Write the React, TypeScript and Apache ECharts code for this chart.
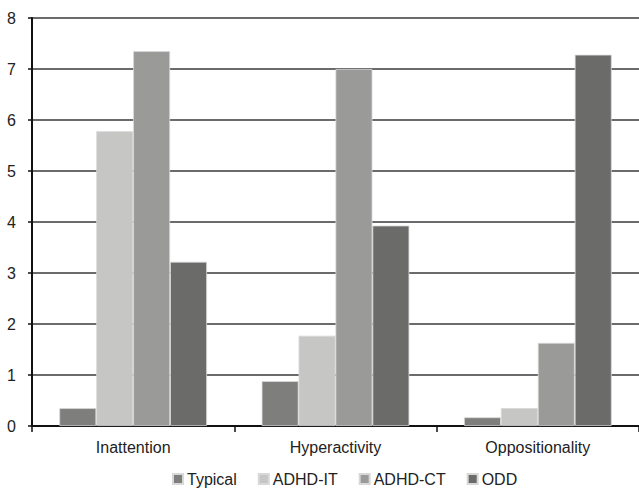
import React, { useEffect, useRef } from "react";
import * as echarts from "echarts";

const categories = ["Inattention", "Hyperactivity", "Oppositionality"];
const seriesNames = ["Typical", "ADHD-IT", "ADHD-CT", "ODD"];
const typical = [0.35, 0.88, 0.17];
const adhdIT = [5.78, 1.77, 0.35];
const adhdCT = [7.35, 7.0, 1.63];
const odd = [3.22, 3.93, 7.28];
const colors = ["#7e7e7c", "#c6c7c5", "#9a9b99", "#6b6b69"];

export default function App() {
  const ref = useRef<HTMLDivElement>(null);
  useEffect(() => {
    if (!ref.current) return;
    const chart = echarts.init(ref.current, undefined, { renderer: "svg" });
    const values = [typical, adhdIT, adhdCT, odd];
    chart.setOption({
      animation: false,
      textStyle: { fontFamily: "Liberation Sans, Arial, sans-serif" },
      grid: { left: 32, right: 0, top: 18, bottom: 62, containLabel: false },
      legend: {
        top: 471,
        left: 172,
        padding: 0,
        itemWidth: 10,
        itemHeight: 10,
        itemGap: 21,
        icon: "rect",
        textStyle: { fontSize: 16, color: "#222", padding: [0, 0, 0, -1] },
        data: seriesNames,
      },
      xAxis: {
        type: "category",
        data: categories,
        axisLine: { lineStyle: { color: "#111", width: 2 } },
        axisTick: { show: true, length: 6, lineStyle: { color: "#111", width: 1.5 } },
        axisLabel: { fontSize: 16, color: "#222", margin: 13 },
      },
      yAxis: {
        type: "value",
        min: 0,
        max: 8,
        interval: 1,
        axisLine: { show: true, lineStyle: { color: "#111", width: 2 } },
        axisTick: { show: true, length: 4, lineStyle: { color: "#111", width: 1.5 } },
        axisLabel: { fontSize: 16, color: "#222", margin: 16 },
        splitLine: { lineStyle: { color: "#3a3a3a", width: 1.5 } },
      },
      series: seriesNames.map((name, i) => ({
        name,
        type: "bar",
        data: values[i],
        barGap: "0%",
        barCategoryGap: "27%",
        itemStyle: { color: colors[i], borderColor: "#d8d8d8", borderWidth: 0.8 },
      })),
    });
    return () => chart.dispose();
  }, []);
  return <div ref={ref} style={{ width: 639, height: 488, position: "absolute", left: 0, top: 0, background: "#fff" }} />;
}
